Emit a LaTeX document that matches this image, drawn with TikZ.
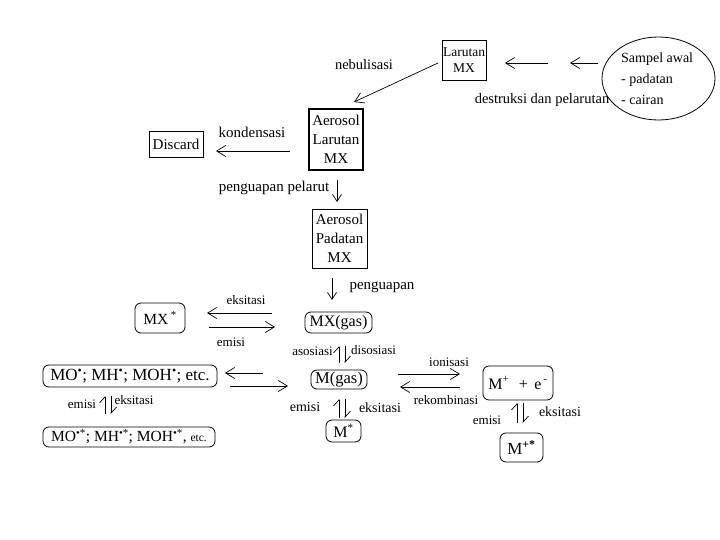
\documentclass[tikz,border=0pt]{standalone}
\usepackage{fontspec}
\setmainfont{Liberation Serif}
\usetikzlibrary{arrows.meta,shapes.geometric}
\begin{document}
\begin{tikzpicture}[x=1pt,y=-1pt,
  lbl/.style={inner sep=0pt,font=\fontsize{14}{16}\selectfont},
  slbl/.style={inner sep=0pt,font=\fontsize{13}{15}\selectfont},
  box/.style={draw,line width=0.8pt,inner sep=1pt,align=center,font=\fontsize{14}{16}\selectfont},
  rbox/.style={draw,line width=0.8pt,rounded corners=6pt,inner sep=1pt,align=center,font=\fontsize{15.5}{17}\selectfont},
  arr/.style={line width=0.7pt,-{Straight Barb[length=9pt,width=11pt,line width=0.7pt]}},
  sarr/.style={line width=0.7pt,-{Straight Barb[length=7pt,width=9pt,line width=0.7pt]}},
  harp/.style={line width=0.7pt,-{Straight Barb[left,length=6pt,width=11pt,line width=0.7pt]}}
]
\fill[white] (0,0) rectangle (720,540);
\useasboundingbox (0,0) rectangle (720,540);

% top part
\node[box,minimum width=42,minimum height=40,font=\fontsize{13.5}{16}\selectfont] (lar) at (464,60) {Larutan\\MX};
\node[draw,ellipse,line width=0.8pt,minimum width=113,minimum height=83] (sampel) at (658.5,78.5) {};
\node[lbl,align=left,anchor=west,font=\fontsize{14}{21}\selectfont] (tsam) at (621,79) {Sampel awal\\ - padatan\\ - cairan};
\coordinate (a1s) at (548,63); \coordinate (a1e) at (505,63);
\coordinate (a2s) at (598,63); \coordinate (a2e) at (570,63);
\draw[arr] (a1s) -- (a1e);
\draw[arr] (a2s) -- (a2e);
\node[lbl,font=\fontsize{14.5}{16}\selectfont] (tdes) at (542,100) {destruksi dan pelarutan};
\node[lbl,font=\fontsize{14.5}{16}\selectfont] (tneb) at (364,65) {nebulisasi};

\node[box,line width=1.8pt,minimum width=54,minimum height=61,font=\fontsize{15}{19}\selectfont] (aerl) at (336,139.5) {Aerosol\\Larutan\\MX};
\coordinate (nbs) at (438,63); \coordinate (nbe) at (354,102);
\draw[arr] (nbs) -- (nbe);

\node[box,minimum width=54,minimum height=26,font=\fontsize{15}{17}\selectfont] (disc) at (176,144) {Discard};
\node[lbl,font=\fontsize{15}{17}\selectfont] (tkon) at (252,132) {kondensasi};
\coordinate (kns) at (290,151); \coordinate (kne) at (216,151);
\draw[arr] (kns) -- (kne);

\node[lbl,font=\fontsize{15}{17}\selectfont] (tpp) at (274,188) {penguapan pelarut};
\node[box,minimum width=55,minimum height=59,font=\fontsize{15}{19}\selectfont] (aerp) at (339.5,238.5) {Aerosol\\Padatan\\MX};
\coordinate (pps) at (337,180); \coordinate (ppe) at (337,202);
\draw[sarr] (pps) -- (ppe);

\node[lbl,font=\fontsize{15}{17}\selectfont] (tpg) at (382,287) {penguapan};
\node[rbox,minimum width=67,minimum height=21,font=\fontsize{16}{17}\selectfont] (mxg) at (338.5,322.5) {MX(gas)};
\coordinate (pgs) at (332,278); \coordinate (pge) at (332,300);
\draw[sarr] (pgs) -- (pge);

% MX*
\node[rbox,minimum width=50,minimum height=30] (mxs) at (160,318) {MX\,\textsuperscript{*}};
\node[slbl] (tek1) at (246,300) {eksitasi};
\node[slbl] (tem1) at (231,342) {emisi};
\coordinate (e1s) at (272,313); \coordinate (e1e) at (207,313);
\coordinate (e2s) at (209,327); \coordinate (e2e) at (275,327);
\draw[arr] (e1s) -- (e1e);
\draw[arr] (e2s) -- (e2e);

% M(gas)
\node[slbl,anchor=east] (taso) at (333,351) {asosiasi};
\node[slbl,anchor=west] (tdis) at (351,350) {disosiasi};
\node[rbox,minimum width=56,minimum height=19,font=\fontsize{16.5}{17}\selectfont] (mg) at (339,379.5) {M(gas)};
\coordinate (d1s) at (339,363); \coordinate (d1e) at (339,346);
\coordinate (d2s) at (345,346); \coordinate (d2e) at (345,363);
\draw[harp] (d1s) -- (d1e);
\draw[harp] (d2s) -- (d2e);

% M*
\node[rbox,minimum width=35,minimum height=22,font=\fontsize{16}{17}\selectfont] (ms) at (343.5,431) {M\textsuperscript{*}};
\node[lbl] (tem2) at (305,407) {emisi};
\node[lbl] (tek2) at (380,408) {eksitasi};
\coordinate (m1s) at (339,418); \coordinate (m1e) at (339,399);
\coordinate (m2s) at (345,399); \coordinate (m2e) at (345,418);
\draw[harp] (m1s) -- (m1e);
\draw[harp] (m2s) -- (m2e);

% MO radicals
\node[rbox,minimum width=174,minimum height=22,font=\fontsize{17}{18}\selectfont] (mo) at (130,376) {MO\textsuperscript{•}; MH\textsuperscript{•}; MOH\textsuperscript{•}; etc.};
\coordinate (o1s) at (263,373); \coordinate (o1e) at (225,373);
\coordinate (o2s) at (230,386); \coordinate (o2e) at (288,386);
\draw[arr] (o1s) -- (o1e);
\draw[arr] (o2s) -- (o2e);
\node[rbox,minimum width=172,minimum height=20,inner xsep=3pt,font=\fontsize{15.5}{18}\selectfont] (mos) at (129,437) {MO\textsuperscript{•*}; MH\textsuperscript{•*}; MOH\textsuperscript{•*}, {\fontsize{11.5}{13}\selectfont etc.}};
\node[slbl] (tem3) at (82,404) {emisi};
\node[slbl] (tek3) at (134,400) {eksitasi};
\coordinate (r1s) at (105,414); \coordinate (r1e) at (105,396);
\coordinate (r2s) at (111,396); \coordinate (r2e) at (111,414);
\draw[harp] (r1s) -- (r1e);
\draw[harp] (r2s) -- (r2e);

% ions
\node[rbox,minimum width=70,minimum height=34,font=\fontsize{16}{17}\selectfont] (mp) at (518,383) {M\textsuperscript{+}\,\, + \,e\textsuperscript{\,-}};
\node[slbl] (tion) at (449,362) {ionisasi};
\node[slbl] (trek) at (446,400) {rekombinasi};
\coordinate (i1s) at (398,374); \coordinate (i1e) at (460,374);
\coordinate (i2s) at (460,387); \coordinate (i2e) at (400,387);
\draw[arr] (i1s) -- (i1e);
\draw[arr] (i2s) -- (i2e);

\node[rbox,minimum width=43,minimum height=29,font=\fontsize{17}{18}\selectfont] (mps) at (521.5,447.5) {M\textsuperscript{\textbf{+*}}};
\node[slbl] (tem4) at (487,420) {emisi};
\node[lbl] (tek4) at (560,412) {eksitasi};
\coordinate (p1s) at (517,423); \coordinate (p1e) at (517,403);
\coordinate (p2s) at (523,403); \coordinate (p2e) at (523,423);
\draw[harp] (p1s) -- (p1e);
\draw[harp] (p2s) -- (p2e);
\end{tikzpicture}
\end{document}
